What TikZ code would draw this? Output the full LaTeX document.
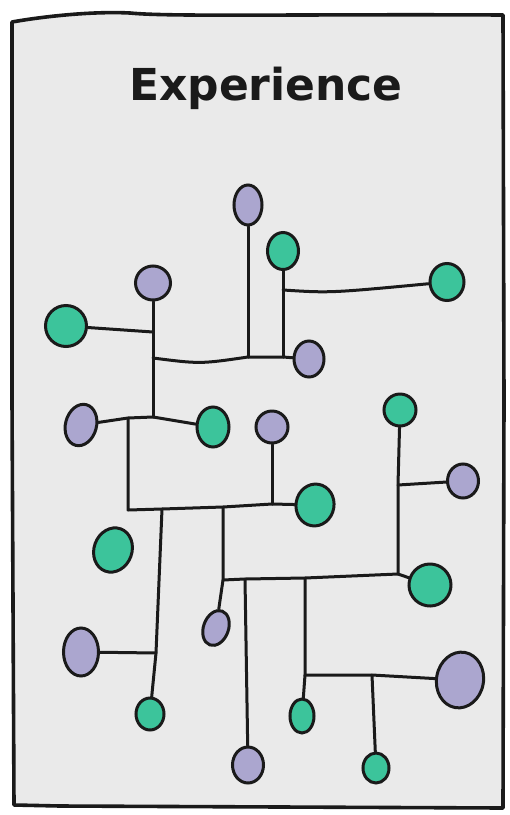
\documentclass[tikz,border=0pt]{standalone}
\usepackage{fontspec}
\newfontfamily\titlefont{DejaVu Sans}
\usetikzlibrary{shapes.geometric}
\definecolor{gfill}{HTML}{3CC49B}
\definecolor{pfill}{HTML}{ABA6CF}
\definecolor{paper}{HTML}{EAEAEA}
\definecolor{ink}{HTML}{1A1A1A}
\pgfdeclarelayer{back}
\pgfdeclarelayer{mid}
\pgfsetlayers{back,mid,main}
\begin{document}
\begin{tikzpicture}[x=1pt,y=-1pt,
  wire/.style={line width=3pt, draw=ink, line cap=round, line join=round},
  dot/.style={ellipse, draw=ink, line width=3pt, inner sep=0pt},
  gdot/.style={dot, fill=gfill},
  pdot/.style={dot, fill=pfill},
  frame/.style={fill=paper, draw=ink, line width=3.6pt, line join=round}]
\useasboundingbox (0,0) rectangle (510,815);
\begin{pgfonlayer}{back}
\fill[white] (0,0) rectangle (510,815);
\draw[frame] (12,22) .. controls (40,17) and (90,11) .. (130,13)
  .. controls (170,17) and (300,14) .. (503,15) -- (504,400) -- (503,808)
  -- (60,806) -- (14,805) -- (12,400) -- cycle;
\end{pgfonlayer}
\node[anchor=base, text=ink] (title) at (266,100) {\titlefont\bfseries\fontsize{44}{50}\selectfont Experience};
% nodes
\node[pdot, minimum width=28pt, minimum height=40pt] (P1) at (248,205) {};
\node[gdot, minimum width=31pt, minimum height=37pt] (G1) at (283,251) {};
\node[gdot, minimum width=34pt, minimum height=37pt] (G2) at (447,282) {};
\node[pdot, minimum width=35pt, minimum height=34pt] (P2) at (153,283) {};
\node[gdot, minimum width=41pt, minimum height=41pt] (G3) at (66,326) {};
\node[pdot, minimum width=30pt, minimum height=36pt] (P3) at (309,359) {};
\node[pdot, minimum width=31pt, minimum height=42pt, rotate=-15] (P4) at (81,425) {};
\node[gdot, minimum width=32pt, minimum height=40pt] (G4) at (213,427) {};
\node[pdot, minimum width=32pt, minimum height=32pt] (P5) at (272,427) {};
\node[gdot, minimum width=38pt, minimum height=42pt, rotate=-10] (G5) at (315,505) {};
\node[gdot, minimum width=32pt, minimum height=32pt] (G9) at (400,410) {};
\node[pdot, minimum width=31pt, minimum height=34pt] (P8) at (463,481) {};
\node[gdot, minimum width=38pt, minimum height=45pt, rotate=-20] (G7) at (113,550) {};
\node[pdot, minimum width=25pt, minimum height=36pt, rotate=-20] (P7) at (216,628) {};
\node[gdot, minimum width=42pt, minimum height=42pt, rotate=-10] (G8) at (430,585) {};
\node[pdot, minimum width=35pt, minimum height=48pt] (P6) at (81,652) {};
\node[gdot, minimum width=28pt, minimum height=32pt] (G6) at (150,714) {};
\node[pdot, minimum width=31pt, minimum height=36pt] (P9) at (248,765) {};
\node[gdot, minimum width=24pt, minimum height=34pt] (G10) at (302,716) {};
\node[pdot, minimum width=47pt, minimum height=56pt, rotate=-10] (P10) at (460,680) {};
\node[gdot, minimum width=26pt, minimum height=30pt] (G11) at (376,768) {};
% junctions
\coordinate (q) at (283,290);
\coordinate (j2) at (283,357);
\coordinate (j1) at (248,357);
\coordinate (b) at (153,358);
\coordinate (a) at (153,332);
\coordinate (c) at (153,417);
\coordinate (d) at (128,418);
\coordinate (e) at (128,510);
\coordinate (f) at (162,509);
\coordinate (h) at (223,507);
\coordinate (i) at (272,504);
\coordinate (g) at (156,653);
\coordinate (hh) at (223,580);
\coordinate (k) at (245,579);
\coordinate (l) at (305,578);
\coordinate (m) at (398,574);
\coordinate (n) at (398,485);
\coordinate (o) at (305,675);
\coordinate (p) at (372,675);
\begin{pgfonlayer}{mid}
\draw[wire] (P1) -- (j1);
\draw[wire] (G1) -- (q) -- (j2);
\draw[wire] (q) .. controls (330,293) .. (G2);
\draw[wire] (P2) -- (c);
\draw[wire] (G3) -- (a);
\draw[wire] (b) .. controls (200,364) .. (j1) -- (j2) -- (P3);
\draw[wire] (P4) -- (d) -- (c) -- (G4);
\draw[wire] (d) -- (e) -- (f) -- (h) -- (i) -- (G5);
\draw[wire] (P5) -- (i);
\draw[wire] (f) -- (g) -- (G6);
\draw[wire] (g) -- (P6);
\draw[wire] (h) -- (hh) -- (P7);
\draw[wire] (hh) -- (k) -- (l) -- (m) -- (G8);
\draw[wire] (G9) -- (n) -- (m);
\draw[wire] (n) -- (P8);
\draw[wire] (k) -- (P9);
\draw[wire] (l) -- (o) -- (G10);
\draw[wire] (o) -- (p) -- (P10);
\draw[wire] (p) -- (G11);
\end{pgfonlayer}
\end{tikzpicture}
\end{document}
